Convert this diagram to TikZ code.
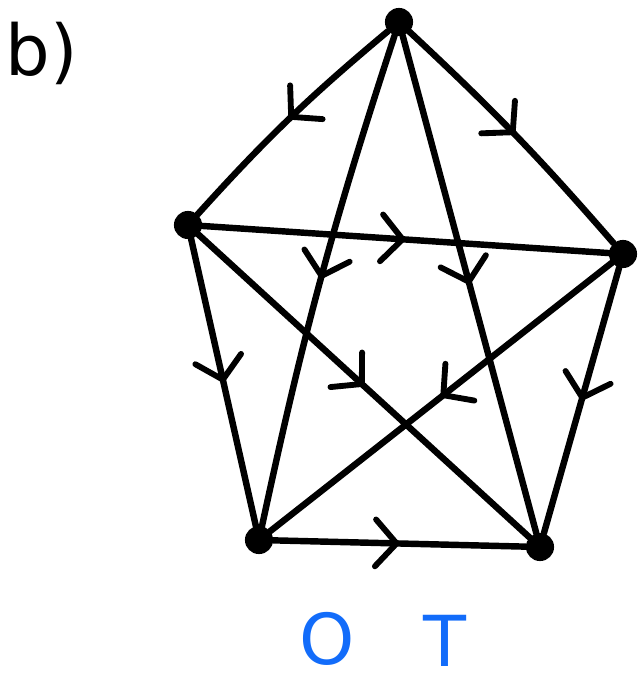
\documentclass[tikz,border=0pt]{standalone}
\usepackage{fontspec}
\setmainfont{DejaVu Sans}
\usetikzlibrary{arrows.meta,decorations.markings}
\definecolor{penblue}{RGB}{18,108,250}

\begin{document}
\begin{tikzpicture}[x=0.03cm,y=0.03cm,
  vertex/.style={circle,fill=black,inner sep=0pt,minimum size=24pt},
  edge/.style={line width=5.5pt,line cap=round,
    decoration={markings,mark=at position 0.5 with {\arrow[line width=5pt]{Straight Barb[length=18pt,width=40pt,round]}}},
    postaction={decorate}},
  hand/.style={font=\fontsize{60}{70}\selectfont}]
\useasboundingbox (0,0) rectangle (638,687);
\node[hand] (lbl) at (42,634) {b)};
\node[vertex] (t) at (399,665) {};
\node[vertex] (l) at (188,462) {};
\node[vertex] (r) at (623,433) {};
\node[vertex] (bl) at (259,147) {};
\node[vertex] (br) at (540,140) {};
\draw[edge] (t) to[bend right=4] (l);
\draw[edge] (t) to[bend left=3] (r);
\draw[edge] (l) -- (r);
\draw[edge] (t) to[bend right=3] (bl);
\draw[edge] (t) -- (br);
\draw[edge] (l) -- (bl);
\draw[edge] (l) -- (br);
\draw[edge] (r) -- (bl);
\draw[edge] (r) -- (br);
\draw[edge] (bl) -- (br);
\node[hand,text=penblue,inner sep=1pt] (o) at (327,48) {O};
\node[hand,text=penblue,inner sep=1pt] (tt) at (445,46) {T};
\end{tikzpicture}
\end{document}
